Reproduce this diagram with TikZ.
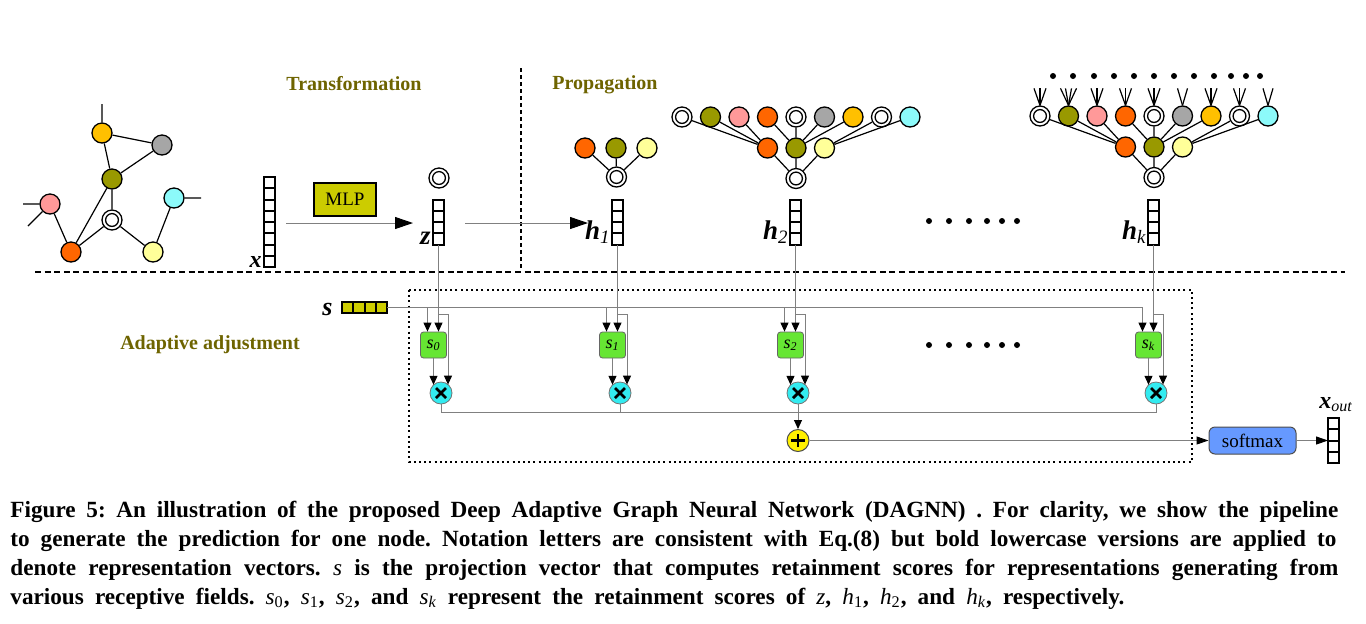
\documentclass[tikz,border=0pt]{standalone}
\usepackage{fontspec}
\setmainfont{Liberation Serif}
\usetikzlibrary{arrows.meta,calc}
\definecolor{cgold}{RGB}{255,192,0}
\definecolor{cgray}{RGB}{166,166,166}
\definecolor{colive}{RGB}{153,153,0}
\definecolor{cpink}{RGB}{255,153,153}
\definecolor{ccyan}{RGB}{140,250,250}
\definecolor{corange}{RGB}{255,102,0}
\definecolor{clyellow}{RGB}{255,255,153}
\definecolor{cmlp}{RGB}{204,204,0}
\definecolor{cgreen}{RGB}{102,230,51}
\definecolor{cmul}{RGB}{51,235,240}
\definecolor{cplus}{RGB}{255,240,0}
\definecolor{csoft}{RGB}{102,153,255}
\definecolor{ctitle}{RGB}{110,100,0}
\definecolor{cline}{RGB}{128,128,128}
\newcommand{\vstk}[4]{%
  \node[vec,minimum height=#4*5.625pt,anchor=north] (#1) at (#2,#3) {};
  \foreach \vk in {1,...,#4}{\draw[line width=1pt] ([yshift=-\vk*5.625pt]#1.north west) -- ([yshift=-\vk*5.625pt]#1.north east);}}
\begin{document}
\begin{tikzpicture}[x=0.5pt,y=-0.5pt,
  gn/.style={circle,draw=black,line width=0.65pt,minimum size=10pt,inner sep=0pt},
  tnn/.style={gn},
  tnd/.style={gn,fill=white,path picture={\draw[line width=0.65pt] (path picture bounding box.center) circle (3.2pt);}},
  ed/.style={line width=0.6pt,black},
  vec/.style={draw=black,line width=1pt,minimum width=5.5pt,inner sep=0pt,outer sep=0pt,fill=white},
  link/.style={draw=cline,line width=0.5pt},
  arr/.style={link,-{Triangle[length=4.5pt,width=4pt,black]}},
  arrm/.style={link,-{Triangle[length=6pt,width=4pt,black]}},
  bigarr/.style={link,-{Triangle[length=9pt,width=6pt,black]}},
  sbox/.style={rectangle,rounded corners=1.5pt,draw=black!60,line width=0.4pt,fill=cgreen,minimum size=13pt,inner sep=0pt,font=\fontsize{9}{9}\selectfont},
  mul/.style={circle,draw=black!55,line width=0.4pt,fill=cmul,minimum size=11pt,inner sep=0pt,
    path picture={\draw[line width=1.4pt,black] ([shift={(-2.5pt,-2.5pt)}]path picture bounding box.center) -- ([shift={(2.5pt,2.5pt)}]path picture bounding box.center);
      \draw[line width=1.4pt,black] ([shift={(-2.5pt,2.5pt)}]path picture bounding box.center) -- ([shift={(2.5pt,-2.5pt)}]path picture bounding box.center);}},
  pls/.style={circle,draw=black!70,line width=0.5pt,fill=cplus,minimum size=11pt,inner sep=0pt,
    path picture={\draw[line width=1.4pt,black] ([xshift=-3.3pt]path picture bounding box.center) -- ([xshift=3.3pt]path picture bounding box.center);
      \draw[line width=1.4pt,black] ([yshift=-3.3pt]path picture bounding box.center) -- ([yshift=3.3pt]path picture bounding box.center);}},
  dotn/.style={circle,fill=black,minimum size=3pt,inner sep=0pt},
  ttl/.style={font=\fontsize{10}{12}\selectfont\bfseries,text=ctitle},
  capt/.style={font=\fontsize{11.6}{12}\selectfont\bfseries\frenchspacing,inner sep=0pt},
  lab/.style={inner sep=0pt}
]
\useasboundingbox (0,0) rectangle (1366,623);

% titles
\node[ttl] (t1) at (354,84) {Transformation};
\node[ttl] (t2) at (605,85) {Propagation};
\node[ttl] (t3) at (210,345) {Adaptive adjustment};

% separators
\coordinate (vs1) at (521,68); \coordinate (vs2) at (521,270);
\draw[line width=1pt,dash pattern=on 2pt off 1.5pt] (vs1) -- (vs2);
\coordinate (hs1) at (35,272); \coordinate (hs2) at (1345,272);
\draw[line width=1pt,dash pattern=on 3pt off 1.8pt] (hs1) -- (hs2);

% left graph
\node[gn,fill=cgold] (ga) at (102,133) {};
\node[gn,fill=cgray] (gb) at (162,145) {};
\node[gn,fill=colive] (gc) at (112,179) {};
\node[gn,fill=cpink] (gd) at (50,204) {};
\node[gn,fill=ccyan] (ge) at (174,198) {};
\node[tnd] (gf) at (112,220) {};
\node[gn,fill=corange] (gg) at (71,252) {};
\node[gn,fill=clyellow] (gh) at (153,252) {};
\coordinate (gau) at (102,104); \coordinate (geu) at (201,198);
\coordinate (gdl) at (23,204); \coordinate (gdd) at (28,226);
\draw[ed] (ga)--(gb) (ga)--(gc) (gb)--(gc) (gc)--(gf) (gc)--(gg) (gd)--(gg) (gf)--(gg) (gf)--(gh) (gh)--(ge)
  (ga)--(gau) (ge)--(geu) (gd)--(gdl) (gd)--(gdd);

% vectors
\vstk{xv}{269.5}{177}{8}
\vstk{zv}{438.5}{199.5}{4}
\vstk{h1v}{617.5}{199.5}{4}
\vstk{h2v}{795.5}{199.5}{4}
\vstk{hkv}{1153.5}{199.5}{4}
\vstk{xo}{1333.5}{418}{4}

\node[lab,font=\fontsize{12}{12}\selectfont\bfseries\itshape,anchor=base east] (xl) at (262,267) {x};
\node[lab,font=\fontsize{13.5}{14}\selectfont\bfseries\itshape,anchor=base east] (zl) at (431,244) {z};
\node[lab,font=\fontsize{13.5}{14}\selectfont\bfseries\itshape,anchor=base east] (h1l) at (611,239) {h\textsubscript{\mdseries 1}};
\node[lab,font=\fontsize{13.5}{14}\selectfont\bfseries\itshape,anchor=base east] (h2l) at (789,239) {h\textsubscript{\mdseries 2}};
\node[lab,font=\fontsize{13.5}{14}\selectfont\bfseries\itshape,anchor=base east] (hkl) at (1147,239) {h\textsubscript{\mdseries k}};
\node[lab,font=\fontsize{12}{12}\selectfont\bfseries\itshape,anchor=base] (xol) at (1336,408) {x\textsubscript{\mdseries out}};

% MLP
\node[draw=black,line width=1pt,fill=cmlp,minimum width=31pt,minimum height=16.5pt,inner sep=0pt,font=\fontsize{9.5}{10}\selectfont] (mlp) at (345,199.5) {MLP};
\coordinate (ma) at (286,223); \coordinate (mb) at (413,223);
\draw[bigarr] (ma) -- (mb);
\coordinate (za) at (465,223); \coordinate (zb) at (588,223);
\draw[bigarr] (za) -- (zb);

% z root
\node[tnd] (zr) at (439,178) {};

% h1 tree
\node[tnd] (br) at (616.5,177) {};
\node[gn,fill=corange] (b1) at (585,148) {};
\node[gn,fill=colive] (b2) at (616,148) {};
\node[gn,fill=clyellow] (b3) at (647,148) {};
\draw[ed] (b1)--(br) (b2)--(br) (b3)--(br);

% h2 tree and hk tree
\foreach \p/\xc/\yt in {a/796/117, k/1154/116}{
  \foreach \t/\c [count=\i] in {d/white,n/colive,n/cpink,n/corange,d/white,n/cgray,n/cgold,d/white,n/ccyan}{
    \node[tn\t,fill=\c] (\p\i) at (\xc+28.5*\i-142.5,\yt) {};
  }
  \node[gn,fill=corange] (\p m1) at (\xc-28.5,\yt+31) {};
  \node[gn,fill=colive] (\p m2) at (\xc,\yt+31) {};
  \node[gn,fill=clyellow] (\p m3) at (\xc+28.5,\yt+31) {};
  \node[tnd] (\p r) at (\xc,\yt+61.5) {};
  \draw[ed] (\p1)--(\p m1) (\p2)--(\p m1) (\p3)--(\p m1)
    (\p4)--(\p m2) (\p5)--(\p m2) (\p6)--(\p m2) (\p7)--(\p m2)
    (\p8)--(\p m3) (\p9)--(\p m3)
    (\p m1)--(\p r) (\p m2)--(\p r) (\p m3)--(\p r);
}
% fans above hk top row
\foreach \i in {1,3,4,5,7,8}{\foreach \d in {-6,0,6}{
  \coordinate (kf\i n\d) at ($(k\i.north)+(\d,-17)$); \draw[ed] (k\i.north) -- (kf\i n\d);}}
\foreach \i in {2}{\foreach \d in {-8,-3,3,8}{
  \coordinate (kf\i n\d) at ($(k\i.north)+(\d,-17)$); \draw[ed] (k\i.north) -- (kf\i n\d);}}
\foreach \i in {6,9}{\foreach \d in {-5,5}{
  \coordinate (kf\i n\d) at ($(k\i.north)+(\d,-17)$); \draw[ed] (k\i.north) -- (kf\i n\d);}}

% dots
\foreach \x [count=\i] in {1053,1073,1094,1114,1134,1154,1174,1194,1214,1231,1246,1260}{\node[dotn] (td\i) at (\x,76) {};}
\foreach \x [count=\i] in {929,949,969,987,1002,1017}{\node[dotn] (md\i) at (\x,221) {}; \node[dotn] (ld\i) at (\x,345) {};}

% adaptive box
\coordinate (ab1) at (409,290); \coordinate (ab2) at (1192,462);
\draw[line width=1pt,dash pattern=on 1pt off 1.6pt] (ab1) rectangle (ab2);

% s vector
\node[vec,fill=cmlp,minimum width=22.5pt,minimum height=5.5pt] (sv) at (364.5,307.5) {};
\foreach \vk in {1,2,3}{\draw[line width=1pt] ([xshift=\vk*5.625pt]sv.north west) -- ([xshift=\vk*5.625pt]sv.south west);}
\node[lab,font=\fontsize{13}{13}\selectfont\bfseries\itshape,anchor=base] (sl) at (327.5,315) {s};

% score boxes and multipliers
\node[sbox] (s0) at (433.5,345) {\textit{s}\textsubscript{\textit{0}}};
\node[sbox] (s1) at (612.5,345) {\textit{s}\textsubscript{\textit{1}}};
\node[sbox] (s2) at (790.5,345) {\textit{s}\textsubscript{\textit{2}}};
\node[sbox] (sk) at (1148.5,345) {\textit{s}\textsubscript{\textit{k}}};
\node[mul] (m0) at (441,393) {};
\node[mul] (m1) at (620,393) {};
\node[mul] (m2) at (798,393) {};
\node[mul] (mk) at (1156,393) {};
\node[pls] (plus) at (798,440.5) {};

% s line
\draw[arr] (sv.east) -| ([xshift=-3pt]sk.north);
\foreach \b in {s0,s1,s2}{\draw[arr] ([xshift=-3pt]\b.north |- sv.east) -- ([xshift=-3pt]\b.north);}

% vector to box arrows and branches
\coordinate (b0) at (438.5,314); \coordinate (bb1) at (617.5,314);
\coordinate (bb2) at (795.5,314); \coordinate (bbk) at (1153.5,314);
\draw[arr] (zv.south) -- (zv.south |- s0.north);
\draw[arr] (h1v.south) -- (h1v.south |- s1.north);
\draw[arr] (h2v.south) -- (h2v.south |- s2.north);
\draw[arr] (hkv.south) -- (hkv.south |- sk.north);
\draw[arr,shorten >=-1.5pt] (b0) -| ([xshift=3.5pt]m0.north);
\draw[arr,shorten >=-1.5pt] (bb1) -| ([xshift=3.5pt]m1.north);
\draw[arr,shorten >=-1.5pt] (bb2) -| ([xshift=3.5pt]m2.north);
\draw[arr,shorten >=-1.5pt] (bbk) -| ([xshift=3.5pt]mk.north);
\foreach \b/\m in {s0/m0,s1/m1,s2/m2,sk/mk}{\draw[arr,shorten >=-1.6pt] (\b.south) -- (\b.south |- \m.north);}

% sum
\coordinate (sumy) at (0,412);
\draw[link] (m0.south) |- (sumy -| mk.south) -- (mk.south);
\draw[link] (m1.south) -- (m1.south |- sumy);
\draw[arr] (m2.south) -- (plus.north);

% softmax
\node[rectangle,rounded corners=3pt,draw=black!70,line width=0.5pt,fill=csoft,minimum width=43.5pt,minimum height=13.5pt,inner sep=0pt,font=\fontsize{9.5}{10}\selectfont] (sm) at (1252.5,440.5) {softmax};
\draw[arrm] (plus) -- (sm);
\draw[arrm] (sm) -- (xo);

% caption
\node[capt,anchor=base west] (c1) at (10,517) {\makebox[664pt][s]{Figure 5: An illustration of the proposed Deep Adaptive Graph Neural Network (DAGNN) . For clarity, we show the pipeline}};
\node[capt,anchor=base west] (c2) at (10,546) {\makebox[663pt][s]{to generate the prediction for one node. Notation letters are consistent with Eq.(8) but bold lowercase versions are applied to}};
\node[capt,anchor=base west] (c3) at (10,575) {\makebox[664pt][s]{denote representation vectors. {\mdseries\itshape s} is the projection vector that computes retainment scores for representations generating from}};
\node[capt,anchor=base west] (c4) at (10,604) {\makebox[557pt][s]{various receptive fields. {\mdseries\itshape s}\textsubscript{\mdseries 0}, {\mdseries\itshape s}\textsubscript{\mdseries 1}, {\mdseries\itshape s}\textsubscript{\mdseries 2}, and {\mdseries\itshape s}\textsubscript{\mdseries\itshape k} represent the retainment scores of {\mdseries\itshape z}, {\mdseries\itshape h}\textsubscript{\mdseries 1}, {\mdseries\itshape h}\textsubscript{\mdseries 2}, and {\mdseries\itshape h}\textsubscript{\mdseries\itshape k}, respectively.}};
\end{tikzpicture}
\end{document}
